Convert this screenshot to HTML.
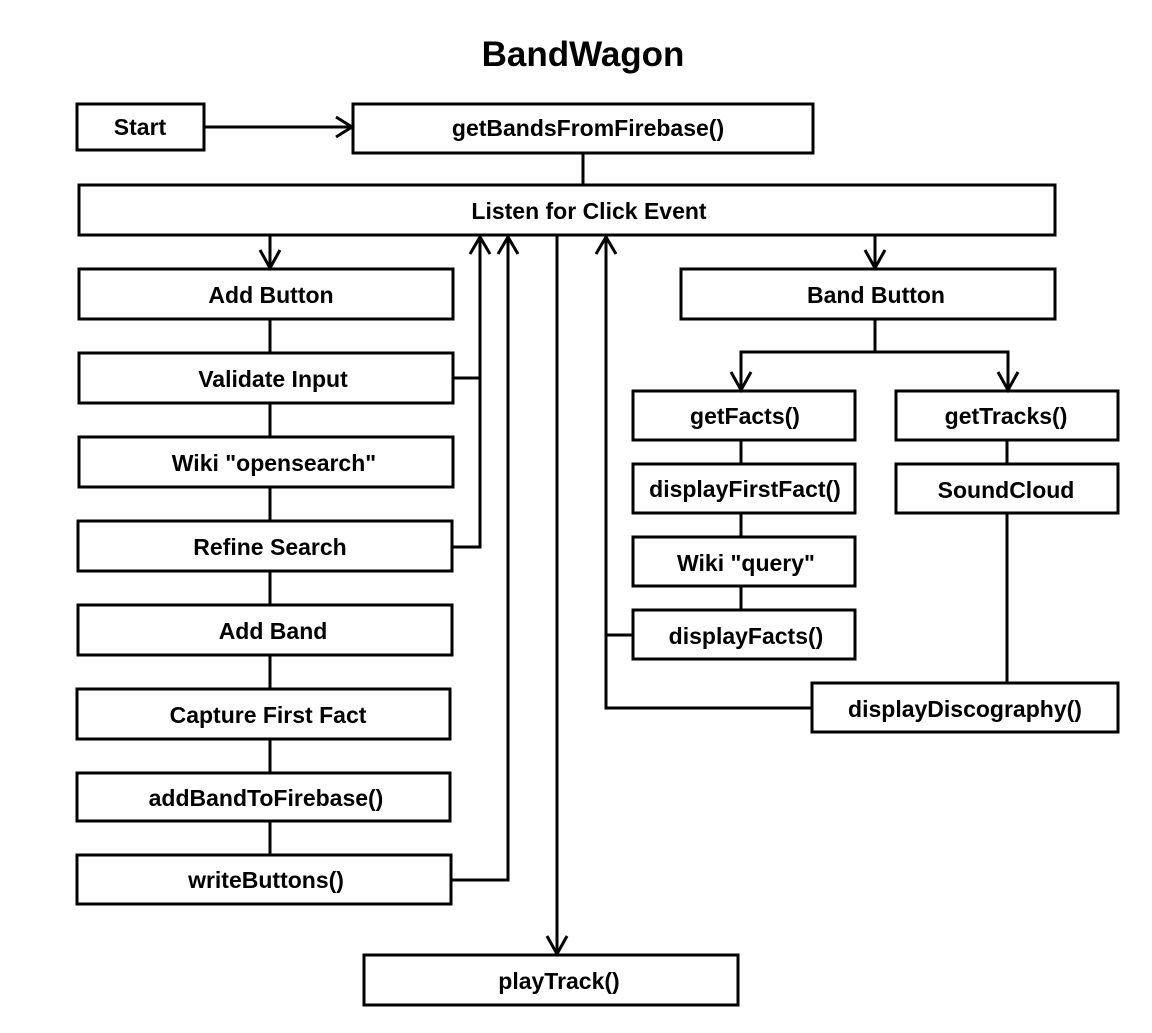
<!DOCTYPE html>
<html><head><meta charset="utf-8"><style>
html,body{margin:0;padding:0;background:#fff;}
svg{display:block;}
text{font-family:"Liberation Sans",Arial,sans-serif;font-weight:bold;fill:#000;}
</style></head><body>
<svg width="1152" height="1033" viewBox="0 0 1152 1033" xmlns="http://www.w3.org/2000/svg">
<text x="583" y="66" font-size="35" text-anchor="middle">BandWagon</text>
<g fill="#fff" stroke="#000" stroke-width="3">
<rect x="77" y="104" width="127" height="46"/>
<rect x="353" y="104" width="460" height="49"/>
<rect x="79" y="185" width="976" height="50"/>
<rect x="79" y="269" width="374" height="50"/>
<rect x="79" y="353" width="374" height="50"/>
<rect x="79" y="437" width="374" height="50"/>
<rect x="78" y="521" width="374" height="50"/>
<rect x="78" y="605" width="374" height="50"/>
<rect x="77" y="689" width="373" height="50"/>
<rect x="77" y="773" width="373" height="48"/>
<rect x="77" y="855" width="374" height="49"/>
<rect x="364" y="955" width="374" height="50"/>
<rect x="681" y="269" width="374" height="50"/>
<rect x="633" y="391" width="222" height="49"/>
<rect x="633" y="464" width="222" height="49"/>
<rect x="633" y="537" width="222" height="49"/>
<rect x="633" y="610" width="222" height="49"/>
<rect x="896" y="391" width="222" height="49"/>
<rect x="896" y="464" width="222" height="49"/>
<rect x="812" y="683" width="306" height="49"/>
</g>
<g fill="none" stroke="#000" stroke-width="3">
<path d="M204 127H352M336 117L352 127L336 137"/>
<path d="M583 153V185"/>
<path d="M270 235V268M260 250L270 268L280 250"/>
<path d="M453 378H480V237M470 254L480 237L490 254"/>
<path d="M452 547H480V378"/>
<path d="M451 880H508V237M498 254L508 237L518 254"/>
<path d="M557 235V954M547 936L557 954L567 936"/>
<path d="M633 635H606M812 708H606V237M596 254L606 237L616 254"/>
<path d="M875 235V268M865 250L875 268L885 250"/>
<path d="M875 319V352H741V390M731 372L741 390L751 372M741 352H1008V390M998 372L1008 390L1018 372"/>
<path d="M270 319V353M270 403V437M270 487V521M270 571V605M270 655V689M270 739V773M270 821V855"/>
<path d="M741 440V464M741 513V537M741 586V610"/>
<path d="M1007 440V464M1007 513V683"/>
</g>
<g font-size="23" text-anchor="middle">
<text x="140" y="135">Start</text>
<text x="588" y="136">getBandsFromFirebase()</text>
<text x="589" y="219">Listen for Click Event</text>
<text x="271" y="303">Add Button</text>
<text x="273" y="387">Validate Input</text>
<text x="274" y="471">Wiki "opensearch"</text>
<text x="270" y="555">Refine Search</text>
<text x="273" y="639">Add Band</text>
<text x="268" y="723">Capture First Fact</text>
<text x="266" y="806">addBandToFirebase()</text>
<text x="266" y="888">writeButtons()</text>
<text x="559" y="989">playTrack()</text>
<text x="876" y="303">Band Button</text>
<text x="745" y="424">getFacts()</text>
<text x="745" y="497">displayFirstFact()</text>
<text x="746" y="571">Wiki "query"</text>
<text x="746" y="644">displayFacts()</text>
<text x="1006" y="424">getTracks()</text>
<text x="1006" y="498">SoundCloud</text>
<text x="965" y="717">displayDiscography()</text>
</g>
</svg>
</body></html>
